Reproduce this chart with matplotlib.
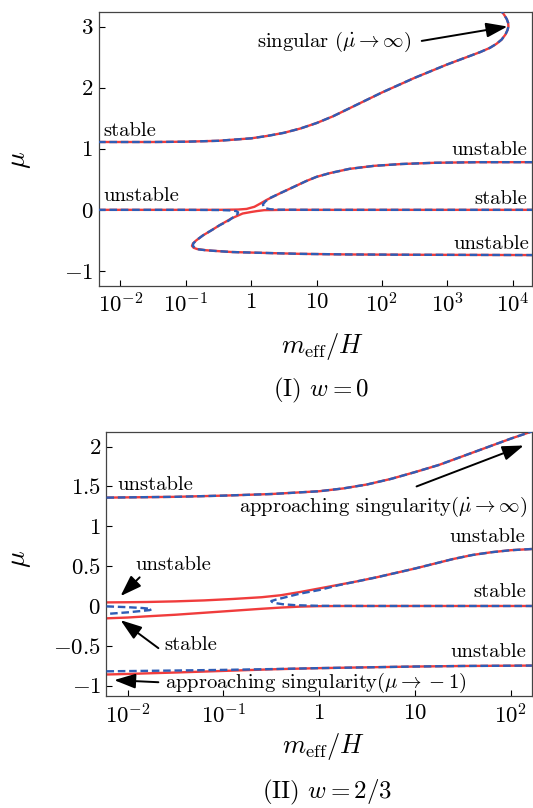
import numpy as np
import matplotlib
matplotlib.use('Agg')
import matplotlib.pyplot as plt
from matplotlib.ticker import NullLocator

plt.rcParams['font.family'] = 'serif'
plt.rcParams['font.serif'] = ['cmr10']
plt.rcParams['mathtext.fontset'] = 'cm'
plt.rcParams['axes.formatter.use_mathtext'] = True

RED = '#f03c3c'
BLUE = '#2f5db5'

# ---- panel (I) w = 0 : log10(m_eff/H) and mu ----
top_logm = [-2.34, -1.5, -1.0, -0.5, 0.0, 0.25, 0.5, 0.75, 1.0, 1.25, 1.5, 1.75, 2.0,
            2.25, 2.5, 2.75, 3.0, 3.25, 3.5, 3.65, 3.75, 3.83, 3.89, 3.92, 3.935,
            3.93, 3.91, 3.87, 3.83, 3.78]
top_mu = [1.11, 1.11, 1.115, 1.13, 1.17, 1.21, 1.26, 1.33, 1.42, 1.53, 1.66, 1.79, 1.92,
          2.04, 2.16, 2.27, 2.38, 2.48, 2.58, 2.65, 2.715, 2.785, 2.87, 2.94, 3.0,
          3.06, 3.12, 3.19, 3.25, 3.30]

# red: unstable (mu=0, left) -> upper unstable branch
r1_logm = [-2.34, -1.0, -0.5, -0.2, -0.07, 0.05, 0.135, 0.25, 0.44, 0.6, 0.72, 0.84,
           1.0, 1.2, 1.5, 1.88, 2.3, 2.8, 3.5, 4.3]
r1_mu = [0.0, 0.0, 0.0, 0.005, 0.015, 0.05, 0.1, 0.17, 0.27, 0.35, 0.41, 0.47,
         0.54, 0.6, 0.67, 0.72, 0.75, 0.77, 0.78, 0.78]
# red: stable (mu=0, right) -> fold -> lower unstable branch
r2_logm = [4.3, 2.0, 1.0, 0.5, 0.2, 0.09, 0.0, -0.13, -0.3, -0.48, -0.6, -0.74, -0.84,
           -0.89, -0.905, -0.88, -0.83, -0.7, -0.58, -0.3, 0.03, 0.75, 1.5, 2.5, 4.3]
r2_mu = [0.0, 0.0, 0.0, 0.0, -0.005, -0.02, -0.035, -0.06, -0.14, -0.25, -0.33, -0.42, -0.5,
         -0.55, -0.59, -0.62, -0.64, -0.66, -0.67, -0.69, -0.70, -0.72, -0.73, -0.735, -0.74]
# blue: mu=0 (left) -> fold -> lower branch
b1_logm = [-2.34, -1.0, -0.5, -0.3, -0.23, -0.2, -0.21, -0.26, -0.35, -0.48, -0.6, -0.74,
           -0.84, -0.885, -0.89, -0.865, -0.82, -0.7, -0.58, -0.3, 0.03, 0.75, 1.5, 2.5, 4.3]
b1_mu = [0.0, 0.0, -0.003, -0.01, -0.02, -0.04, -0.07, -0.11, -0.18, -0.25, -0.33, -0.42,
         -0.5, -0.55, -0.59, -0.62, -0.645, -0.66, -0.67, -0.69, -0.70, -0.72, -0.73, -0.735, -0.74]
# blue: upper branch -> mu=0 (right)
b2_logm = [4.3, 3.5, 2.8, 2.3, 1.88, 1.5, 1.2, 1.0, 0.84, 0.6, 0.44, 0.3, 0.22, 0.18, 0.19,
           0.23, 0.29, 0.4, 1.0, 2.0, 4.3]
b2_mu = [0.78, 0.78, 0.77, 0.75, 0.72, 0.67, 0.6, 0.54, 0.47, 0.35, 0.27, 0.2, 0.14, 0.09, 0.05,
         0.025, 0.01, 0.003, 0.0, 0.0, 0.0]

# ---- panel (II) w = 2/3 ----
t2_logm = [-2.22, -1.5, -1.0, -0.5, 0.0, 0.25, 0.5, 0.75, 1.0, 1.25, 1.5, 1.75, 2.0, 2.22]
t2_mu = [1.36, 1.37, 1.385, 1.405, 1.44, 1.475, 1.525, 1.595, 1.68, 1.77, 1.88, 1.99, 2.10, 2.19]

u2_logm = [-2.22, -2.0, -1.8, -1.5, -1.2, -0.9, -0.6, -0.4, -0.2, 0.0, 0.2, 0.4, 0.6,
           0.8, 1.0, 1.2, 1.4, 1.6, 1.8, 2.0, 2.22]
u2_mu = [0.045, 0.047, 0.05, 0.058, 0.07, 0.088, 0.11, 0.135, 0.175, 0.22, 0.265, 0.31, 0.36,
         0.415, 0.47, 0.53, 0.59, 0.64, 0.675, 0.70, 0.715]
l2_logm = [-2.22, -2.0, -1.8, -1.5, -1.2, -0.9, -0.6, -0.4, -0.2, 0.0, 0.3, 1.0, 2.22]
l2_mu = [-0.155, -0.145, -0.13, -0.11, -0.085, -0.06, -0.035, -0.02, -0.008, -0.002, 0.0, 0.0, 0.0]

bl_logm = [-2.22, -2.0, -1.84, -1.77, -1.75, -1.77, -1.85, -2.0, -2.22]
bl_mu = [-0.005, -0.015, -0.026, -0.035, -0.042, -0.052, -0.062, -0.08, -0.1]
br_logm = [2.22, 2.0, 1.8, 1.6, 1.4, 1.2, 1.0, 0.8, 0.6, 0.4, 0.2, 0.0, -0.2, -0.35, -0.45,
           -0.5, -0.49, -0.45, -0.38, -0.25, 0.0, 0.5, 2.22]
br_mu = [0.715, 0.70, 0.675, 0.64, 0.59, 0.53, 0.47, 0.415, 0.36, 0.31, 0.26, 0.2, 0.155,
         0.11, 0.08, 0.062, 0.05, 0.035, 0.022, 0.01, 0.002, 0.0, 0.0]

low_logm = [-2.22, -2.0, -1.5, -1.0, -0.5, 0.0, 0.5, 1.0, 1.5, 2.22]
low_red = [-0.86, -0.853, -0.835, -0.815, -0.795, -0.78, -0.77, -0.76, -0.753, -0.748]
low_blue = [-0.82, -0.817, -0.81, -0.802, -0.792, -0.78, -0.77, -0.76, -0.753, -0.748]


def red(ax, lm, mu):
    ax.plot(10 ** np.array(lm), mu, color=RED, lw=1.7, zorder=2)


def blue(ax, lm, mu):
    ax.plot(10 ** np.array(lm), mu, color=BLUE, lw=1.7, ls=(0, (3.2, 1.6)), zorder=3)


def style(ax, xt, xl, yt, yl):
    ax.set_xscale('log')
    ax.set_xticks(xt)
    ax.set_xticklabels(xl)
    ax.xaxis.set_minor_locator(NullLocator())
    ax.set_yticks(yt)
    ax.set_yticklabels(yl)
    ax.tick_params(direction='in', length=4, width=0.8, labelsize=16.5, top=False, right=False)
    ax.tick_params(axis='x', pad=5)
    ax.tick_params(axis='y', pad=4)
    for s in ax.spines.values():
        s.set_color('#444444')
        s.set_linewidth(0.9)


fig = plt.figure(figsize=(5.33, 8.08), dpi=100)
ax1 = fig.add_axes([0.185, 0.6465, 0.8137, 0.3384])
ax2 = fig.add_axes([0.1998, 0.138, 0.798, 0.327])

# panel I
red(ax1, top_logm, top_mu)
blue(ax1, top_logm, top_mu)
red(ax1, r1_logm, r1_mu)
red(ax1, r2_logm, r2_mu)
blue(ax1, b1_logm, b1_mu)
blue(ax1, b2_logm, b2_mu)
ax1.set_xlim(10 ** -2.333, 10 ** 4.3)
ax1.set_ylim(-1.24, 3.234)
style(ax1, [1e-2, 1e-1, 1, 10, 1e2, 1e3, 1e4],
      [r'$10^{-2}$', r'$10^{-1}$', r'$1$', r'$10$', r'$10^{2}$', r'$10^{3}$', r'$10^{4}$'],
      [-1, 0, 1, 2, 3], [r'$-1$', r'$0$', r'$1$', r'$2$', r'$3$'])

fs = 14.8
tk = dict(fontsize=fs, va='center', transform=ax1.transAxes)
ax1.text(0.012, 0.565, 'stable', ha='left', **tk)
ax1.text(0.012, 0.327, 'unstable', ha='left', **tk)
ax1.text(0.988, 0.495, 'unstable', ha='right', **tk)
ax1.text(0.988, 0.315, 'stable', ha='right', **tk)
ax1.text(0.992, 0.153, 'unstable', ha='right', **tk)
ax1.text(0.722, 0.893, r'singular ($\dot{\mu}\rightarrow\infty$)', ha='right', **tk)
arw = dict(arrowstyle='-|>,head_length=1.3,head_width=0.45', color='k', lw=1.4,
           shrinkA=0, shrinkB=0, mutation_scale=10)
ax1.annotate('', xy=(10 ** 3.92, 3.0), xycoords='data', xytext=(0.745, 0.895),
             textcoords='axes fraction', arrowprops=arw)

# panel II
red(ax2, t2_logm, t2_mu)
blue(ax2, t2_logm, t2_mu)
red(ax2, u2_logm, u2_mu)
red(ax2, l2_logm, l2_mu)
blue(ax2, bl_logm, bl_mu)
blue(ax2, br_logm, br_mu)
red(ax2, low_logm, low_red)
blue(ax2, low_logm, low_blue)
ax2.set_xlim(10 ** -2.22, 10 ** 2.22)
ax2.set_ylim(-1.136, 2.18)
style(ax2, [1e-2, 1e-1, 1, 10, 1e2],
      [r'$10^{-2}$', r'$10^{-1}$', r'$1$', r'$10$', r'$10^{2}$'],
      [-1, -0.5, 0, 0.5, 1, 1.5, 2],
      [r'$-1$', r'$-0.5$', r'$0$', r'$0.5$', r'$1$', r'$1.5$', r'$2$'])

tk2 = dict(fontsize=fs, va='center', transform=ax2.transAxes)
ax2.text(0.025, 0.799, 'unstable', ha='left', **tk2)
ax2.text(0.989, 0.718, r'approaching singularity$(\dot{\mu}\rightarrow\infty)$', ha='right', **tk2)
ax2.text(0.985, 0.602, 'unstable', ha='right', **tk2)
ax2.text(0.069, 0.496, 'unstable', ha='left', **tk2)
ax2.text(0.987, 0.397, 'stable', ha='right', **tk2)
ax2.text(0.137, 0.193, 'stable', ha='left', **tk2)
ax2.text(0.986, 0.170, 'unstable', ha='right', **tk2)
ax2.text(0.137, 0.051, r'approaching singularity$(\mu\rightarrow-1)$', ha='left', **tk2)
for tail, head in [((0.729, 0.795), (0.981, 0.950)),
                   ((0.078, 0.451), (0.033, 0.380)),
                   ((0.122, 0.183), (0.033, 0.289)),
                   ((0.122, 0.054), (0.018, 0.062))]:
    ax2.annotate('', xy=head, xycoords='axes fraction', xytext=tail,
                 textcoords='axes fraction', arrowprops=arw)

# axis labels and captions
fig.text(0.038, 0.8015, r'$\mu$', fontsize=20, rotation=90, ha='center', va='center')
fig.text(0.038, 0.3085, r'$\mu$', fontsize=20, rotation=90, ha='center', va='center')
fig.text(0.604, 0.5714, r'$m_{\rm eff}/H$', fontsize=19, ha='center', va='center')
fig.text(0.606, 0.0764, r'$m_{\rm eff}/H$', fontsize=19, ha='center', va='center')
fig.text(0.603, 0.5167, r'(I) $w=0$', fontsize=18, ha='center', va='center')
fig.text(0.614, 0.0195, r'(II) $w=2/3$', fontsize=18, ha='center', va='center')

fig.savefig('out.png', dpi=100)
